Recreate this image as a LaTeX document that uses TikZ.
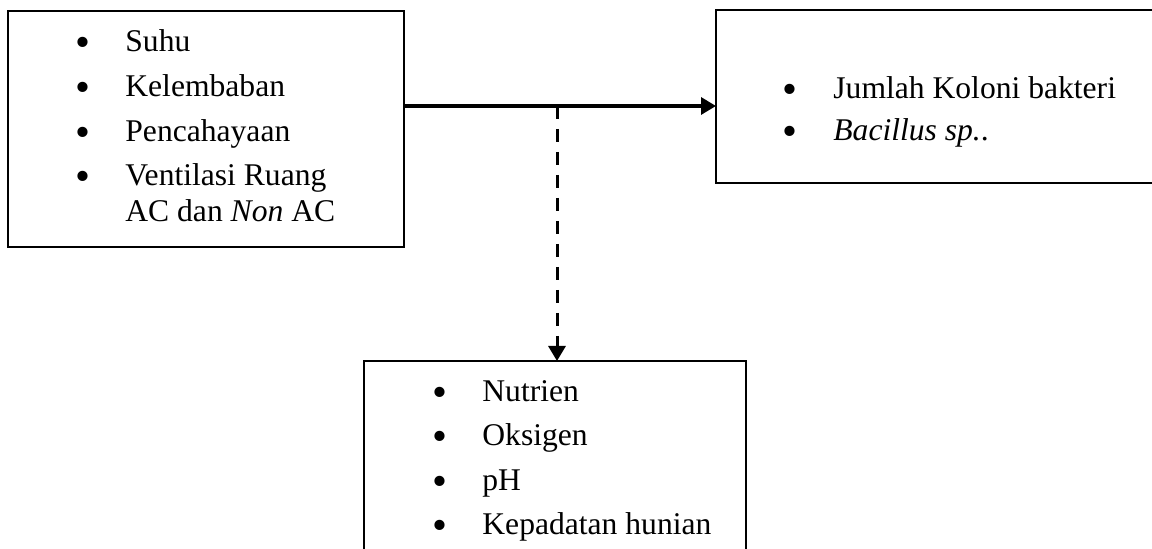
\documentclass[tikz,border=0pt]{standalone}
\usepackage{fontspec}
\setmainfont{Liberation Serif}
\usetikzlibrary{arrows.meta}
\newcommand{\mybul}{\raisebox{-2.5pt}{\scalebox{1.35}{\textbullet}}}
\begin{document}
\begin{tikzpicture}[x=0.5pt,y=-0.5pt,
  box/.style={draw,line width=0.9pt,rectangle,inner sep=0pt,outer sep=0pt,anchor=north west},
  txt/.style={anchor=base west,inner sep=0pt,font=\fontsize{15.8pt}{19pt}\selectfont},
  bul/.style={anchor=base,inner sep=0pt,font=\fontsize{15.8pt}{19pt}\selectfont},
  conn/.style={line width=1.6pt,-{Triangle[length=7.5pt,width=8.5pt]}},
  dconn/.style={conn,line width=1.5pt,dash pattern=on 6.5pt off 5pt}]
\clip (0,0) rectangle (1152,549);
% boxes
\node[box,minimum width=198pt,minimum height=118pt] (L) at (8,11) {};
\node[box,minimum width=227pt,minimum height=86.5pt] (R) at (716,10) {};
\node[box,minimum width=191pt,minimum height=104.5pt] (B) at (364,361) {};
% left box text
\node[bul] (lb1) at (83,52) {\mybul};
\node[txt] (l1) at (125,52) {Suhu};
\node[bul] (lb2) at (83,97) {\mybul};
\node[txt] (l2) at (125,97) {Kelembaban};
\node[bul] (lb3) at (83,142) {\mybul};
\node[txt] (l3) at (125,142) {Pencahayaan};
\node[bul] (lb4) at (83,186) {\mybul};
\node[txt] (l4) at (125,186) {Ventilasi Ruang};
\node[txt] (l5) at (125,222) {AC dan \textit{Non} AC};
% right box text
\node[bul] (rb1) at (790,99) {\mybul};
\node[txt] (r1) at (833,99) {Jumlah Koloni bakteri};
\node[bul] (rb2) at (790,141) {\mybul};
\node[txt] (r2) at (833,141) {\textit{Bacillus sp.}.};
% bottom box text
\node[bul] (bb1) at (440,402) {\mybul};
\node[txt] (b1) at (482,402) {Nutrien};
\node[bul] (bb2) at (440,446) {\mybul};
\node[txt] (b2) at (482,446) {Oksigen};
\node[bul] (bb3) at (440,491) {\mybul};
\node[txt] (b3) at (482,491) {pH};
\node[bul] (bb4) at (440,535) {\mybul};
\node[txt] (b4) at (482,535) {Kepadatan hunian};
% connectors
\coordinate (a0) at (404,106);
\draw[conn] (a0) -- (a0 -| R.west);
\coordinate (d0) at (557,106);
\draw[dconn] (d0) -- (d0 |- B.north);
\end{tikzpicture}
\end{document}
